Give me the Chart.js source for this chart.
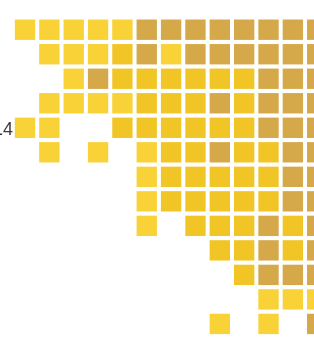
<!DOCTYPE html>
<html>
<head>
<meta charset="utf-8">
<script src="https://cdn.jsdelivr.net/npm/chart.js@4.4.0/dist/chart.umd.min.js"></script>
<style>
  html, body { margin: 0; padding: 0; background: #fff; overflow: hidden; }
  #wrap { width: 314px; height: 339px; position: relative; }
</style>
</head>
<body>
<div id="wrap"><canvas id="myChart"></canvas></div>
<script>
// grid positions
const columns = [0, 1, 2, 3, 4, 5, 6, 7, 8, 9, 10, 11, 12]
const rows = [0, 1, 2, 3, 4, 5, 6, 7, 8, 9, 10, 11, 12]

// 0 = empty, 1 = light yellow, 2 = gold, 3 = ochre
const cellShades = [
    [1, 1, 1, 1, 1, 3, 3, 3, 3, 3, 3, 3, 3],
    [0, 1, 1, 1, 2, 3, 1, 3, 3, 3, 3, 3, 3],
    [0, 0, 1, 3, 2, 2, 2, 2, 2, 2, 3, 3, 3],
    [0, 1, 1, 1, 1, 2, 2, 2, 3, 2, 3, 3, 3],
    [1, 1, 0, 0, 2, 2, 2, 2, 2, 2, 3, 3, 3],
    [0, 1, 0, 1, 0, 1, 2, 2, 3, 2, 2, 3, 3],
    [0, 0, 0, 0, 0, 1, 2, 2, 2, 2, 2, 3, 3],
    [0, 0, 0, 0, 0, 1, 2, 2, 2, 2, 2, 3, 3],
    [0, 0, 0, 0, 0, 1, 0, 2, 2, 2, 3, 2, 3],
    [0, 0, 0, 0, 0, 0, 0, 0, 2, 2, 3, 2, 3],
    [0, 0, 0, 0, 0, 0, 0, 0, 0, 2, 3, 3, 3],
    [0, 0, 0, 0, 0, 0, 0, 0, 0, 0, 1, 1, 1],
    [0, 0, 0, 0, 0, 0, 0, 0, 1, 0, 1, 0, 3]
]

// row label (the only text visible)
const tickRows = [4.1]
const tickLabels = ['14']

const shadeColors = { 1: '#f8d236', 2: '#f2c527', 3: '#d5a84a' }

const datasets = [1, 2, 3].map(shade => {
    const pts = []
    rows.forEach((r, ri) => {
        columns.forEach((c, ci) => {
            if (cellShades[ri][ci] === shade) pts.push({ x: c, y: r })
        })
    })
    return {
        data: pts,
        pointStyle: 'rect',
        pointRadius: 14.4,
        pointHoverRadius: 14.4,
        pointBorderWidth: 0,
        backgroundColor: shadeColors[shade],
        borderColor: shadeColors[shade],
        clip: false
    }
})

const ctx = document.getElementById('myChart')
new Chart(ctx, {
    type: 'scatter',
    data: { datasets: datasets },
    options: {
        responsive: true,
        maintainAspectRatio: false,
        animation: false,
        events: [],
        layout: { padding: 0, autoPadding: false },
        plugins: {
            legend: { display: false },
            tooltip: { enabled: false }
        },
        scales: {
            x: {
                type: 'linear',
                display: false,
                min: -1.027,
                max: 11.868
            },
            y: {
                type: 'linear',
                reverse: true,
                min: -1.057,
                max: 12.46,
                grid: { display: false },
                border: { display: false },
                afterFit: scale => { scale.width = 0 },
                afterBuildTicks: scale => {
                    scale.ticks = tickRows.map(v => ({ value: v }))
                },
                ticks: {
                    mirror: true,
                    padding: -7,
                    autoSkip: false,
                    color: '#3a3a3a',
                    font: { family: 'Liberation Sans', size: 18 },
                    callback: (value, i) => tickLabels[i] || ''
                }
            }
        }
    }
})
</script>
</body>
</html>
